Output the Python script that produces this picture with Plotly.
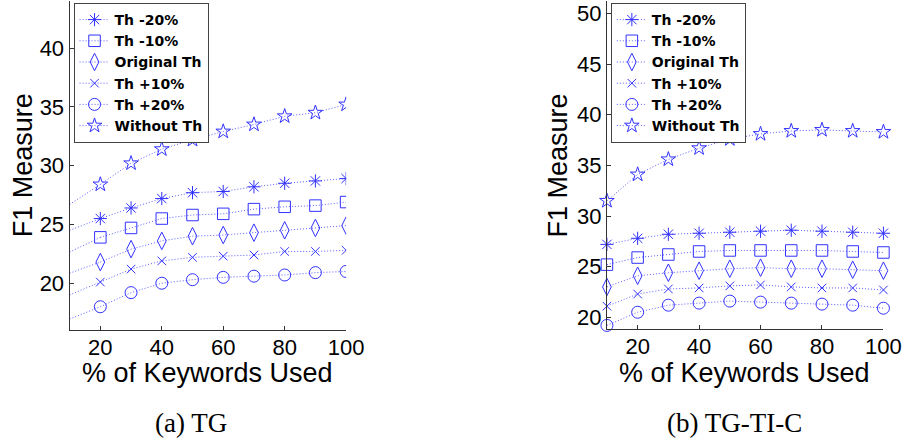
import plotly.graph_objects as go

# x positions (% of keywords used)
pct_tg = [20, 30, 40, 50, 60, 70, 80, 90, 100]
pct_ti = [10, 20, 30, 40, 50, 60, 70, 80, 90, 100]

series_names = ["Th -20%", "Th -10%", "Original Th", "Th +10%", "Th +20%", "Without Th"]

# (a) TG: F1 values at 20..100
tg_m20 = [25.5, 26.4, 27.2, 27.7, 27.8, 28.2, 28.5, 28.7, 28.9]
tg_m10 = [23.9, 24.7, 25.5, 25.8, 25.9, 26.3, 26.5, 26.6, 26.9]
tg_orig = [21.8, 22.9, 23.6, 24.0, 24.1, 24.3, 24.5, 24.7, 24.9]
tg_p10 = [20.1, 21.2, 21.9, 22.2, 22.3, 22.4, 22.7, 22.7, 22.8]
tg_p20 = [18.0, 19.2, 20.0, 20.3, 20.5, 20.6, 20.7, 20.9, 21.0]
tg_noth = [28.4, 30.2, 31.4, 32.2, 32.9, 33.5, 34.2, 34.5, 35.2]
# curve values at the left edge (x = 10), drawn without a marker
tg_edge_x = 10
tg_edge = [24.5, 22.65, 20.85, 19.0, 16.95, 26.7]

# (b) TG-TI-C: F1 values at 10..100
ti_m20 = [27.2, 27.8, 28.2, 28.3, 28.4, 28.5, 28.6, 28.5, 28.4, 28.3]
ti_m10 = [25.2, 25.9, 26.2, 26.5, 26.6, 26.6, 26.6, 26.6, 26.5, 26.4]
ti_orig = [23.0, 24.1, 24.4, 24.6, 24.8, 24.9, 24.8, 24.8, 24.7, 24.6]
ti_p10 = [21.1, 22.3, 22.8, 22.9, 23.1, 23.2, 23.0, 22.9, 22.9, 22.7]
ti_p20 = [19.2, 20.5, 21.2, 21.4, 21.6, 21.5, 21.4, 21.3, 21.2, 20.9]
ti_noth = [31.5, 34.1, 35.6, 36.7, 37.6, 38.1, 38.4, 38.5, 38.4, 38.3]

tg_series = [tg_m20, tg_m10, tg_orig, tg_p10, tg_p20, tg_noth]
ti_series = [ti_m20, ti_m10, ti_orig, ti_p10, ti_p20, ti_noth]

symbols = ["asterisk-open", "square-open", "diamond-tall-open", "x-thin-open", "circle-open", "star-open"]
sizes = [11, 11.5, 12.5, 8.5, 12, 11]

MARK = "rgb(50,50,255)"
LINE = "rgba(40,40,255,0.75)"
DASH = "1px,2px"

fig = go.Figure()

for name, ys, edge, sym, sz in zip(series_names, tg_series, tg_edge, symbols, sizes):
    fig.add_trace(go.Scatter(
        x=[tg_edge_x, pct_tg[0]], y=[edge, ys[0]], mode="lines",
        line=dict(color=LINE, width=1, dash=DASH), showlegend=False,
        hoverinfo="skip", xaxis="x", yaxis="y"))
    fig.add_trace(go.Scatter(
        x=pct_tg, y=ys, name=name, mode="lines+markers",
        line=dict(color=LINE, width=1, dash=DASH),
        marker=dict(symbol=sym, size=sz, color=MARK, line=dict(color=MARK, width=1)),
        xaxis="x", yaxis="y", legend="legend"))

for name, ys, sym, sz in zip(series_names, ti_series, symbols, sizes):
    fig.add_trace(go.Scatter(
        x=pct_ti, y=ys, name=name, mode="lines+markers",
        line=dict(color=LINE, width=1, dash=DASH),
        marker=dict(symbol=sym, size=sz, color=MARK, line=dict(color=MARK, width=1)),
        xaxis="x2", yaxis="y2", legend="legend2", cliponaxis=False))

W, H = 923, 446

def px_x(v):
    return v / W

def px_y(v):
    return (H - v) / H

tick_font = dict(family="Liberation Sans, Arial", size=22, color="black")
axis_common = dict(
    showline=True, linecolor="#333", linewidth=1.2, ticks="inside", ticklen=4,
    tickcolor="#333", showgrid=False, zeroline=False, tickfont=tick_font,
    mirror=False,
)

legend_font = dict(family="DejaVu Sans", size=14, color="black", weight="bold")

fig.update_layout(
    width=W, height=H, margin=dict(l=0, r=0, t=0, b=0),
    paper_bgcolor="white", plot_bgcolor="white",
    xaxis=dict(domain=[px_x(71), px_x(353)], range=[10, 100], tickvals=[20, 40, 60, 80, 100],
               anchor="y", ticklabelstandoff=-3, **axis_common),
    yaxis=dict(domain=[px_y(331), px_y(1)], range=[16, 44], tickvals=[20, 25, 30, 35, 40],
               anchor="x", **axis_common),
    xaxis2=dict(domain=[px_x(619), px_x(901)], range=[10, 100], tickvals=[20, 40, 60, 80, 100],
                anchor="y2", ticklabelstandoff=-3, **axis_common),
    yaxis2=dict(domain=[px_y(330), px_y(1)], range=[18.82, 51.23],
                tickvals=[20, 25, 30, 35, 40, 45, 50], anchor="x2", **axis_common),
    legend=dict(x=px_x(75), y=px_y(3), xanchor="left", yanchor="top",
                bgcolor="white", bordercolor="#444", borderwidth=1, font=legend_font),
    legend2=dict(x=px_x(623), y=px_y(3), xanchor="left", yanchor="top",
                 bgcolor="white", bordercolor="#444", borderwidth=1, font=legend_font),
    showlegend=True,
)

title_font = dict(family="Liberation Sans, Arial", size=27, color="black")
cap_font = dict(family="Liberation Serif, Times New Roman", size=27, color="black")

annotations = [
    dict(text="% of Keywords Used", x=px_x(212), y=px_y(374), font=title_font),
    dict(text="% of Keywords Used", x=px_x(759), y=px_y(374), font=title_font),
    dict(text="F1 Measure", x=px_x(23), y=px_y(166), textangle=-90, font=title_font),
    dict(text="F1 Measure", x=px_x(569), y=px_y(166), textangle=-90, font=title_font),
    dict(text="(a) TG", x=px_x(194.5), y=px_y(424), font=cap_font),
    dict(text="(b) TG-TI-C", x=px_x(749.5), y=px_y(424), font=cap_font),
]
for a in annotations:
    a.update(xref="paper", yref="paper", showarrow=False, xanchor="center", yanchor="middle")
fig.update_layout(annotations=annotations)

fig.write_html("out.html")
